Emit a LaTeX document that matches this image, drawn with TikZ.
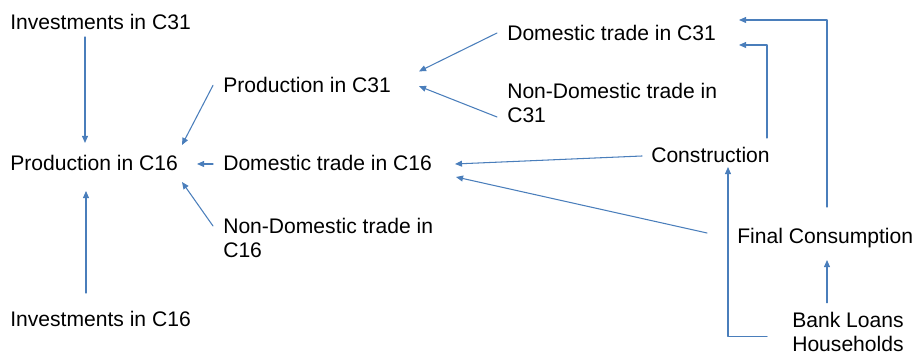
\documentclass[tikz,border=0pt]{standalone}
\usepackage{fontspec}
\setmainfont{Liberation Sans}
\usepackage{tikz}
\usetikzlibrary{arrows.meta}
\usetikzlibrary{calc}
\definecolor{flowblue}{RGB}{74,126,187}

\begin{document}
\begin{tikzpicture}[line cap=round,line join=round,x=1.0cm,y=1.0cm,
  lbl/.style={anchor=base west,inner sep=0pt,font=\fontsize{15}{17.5}\selectfont},
  flow/.style={color=flowblue,line width=0.75pt,-{Triangle[length=5pt,width=4.2pt]}}]
\useasboundingbox (0,0) rectangle (23,8.875);
% left column
\node[lbl] (ic31) at (0.25,8.125) {Investments in C31};
\node[lbl] (pc16) at (0.25,4.6) {Production in C16};
\node[lbl] (ic16) at (0.25,0.7) {Investments in C16};
% middle column
\node[lbl] (pc31) at (5.575,6.55) {Production in C31};
\node[lbl] (dtc16) at (5.575,4.6) {Domestic trade in C16};
\node[lbl,align=left] (ndc16) at (5.575,2.425) {Non-Domestic trade in\\C16};
% right column
\node[lbl] (dtc31) at (12.675,7.85) {Domestic trade in C31};
\node[lbl,align=left] (ndc31) at (12.675,5.8) {Non-Domestic trade in\\C31};
\node[lbl] (con) at (16.275,4.8) {Construction};
\node[lbl] (fc) at (18.425,2.775) {Final Consumption};
\node[lbl,align=left] (bl) at (19.8,0.08) {Bank Loans\\Households};
% arrows into C16 production
\draw[flow] ($(ic31.base west)+(1.875,-0.175)$) -- ($(pc16.base west)+(1.875,0.7)$);
\draw[flow] ($(ic16.base west)+(1.9,0.85)$) -- ($(pc16.base west)+(1.9,-0.5)$);
\draw[flow] ($(pc31.base west)+(-0.25,0.19)$) -- ($(pc16.base west)+(4.3,0.65)$);
\draw[flow] ($(dtc16.base west)+(-0.25,0.175)$) -- ($(pc16.base west)+(4.675,0.175)$);
\draw[flow] ($(ndc16.base west)+(-0.25,0.8)$) -- ($(pc16.base west)+(4.3,-0.275)$);
% arrows into C31 production
\draw[flow] ($(dtc31.base west)+(-0.25,0.2)$) -- ($(pc31.base west)+(4.9,0.54)$);
\draw[flow] ($(ndc31.base west)+(-0.25,0.15)$) -- ($(pc31.base west)+(4.9,0.17)$);
% demand side
\draw[flow] ($(con.base west)+(-0.225,0.175)$) -- ($(dtc16.base west)+(5.8,0.175)$);
\draw[flow] ($(fc.base west)+(-0.75,0.275)$) -- ($(dtc16.base west)+(5.825,-0.15)$);
\draw[flow] ($(fc.base west)+(2.25,0.925)$) |- ($(dtc31.base west)+(5.8,0.525)$);
\draw[flow] ($(con.base west)+(2.9,0.625)$) |- ($(dtc31.base west)+(5.8,-0.1)$);
\draw[flow] ($(bl.base west)+(0.875,1.225)$) -- ($(fc.base west)+(2.25,-0.4)$);
\draw[flow] ($(bl.base west)+(-0.625,0.375)$) -| ($(con.base west)+(1.925,-0.1)$);
\end{tikzpicture}
\end{document}
